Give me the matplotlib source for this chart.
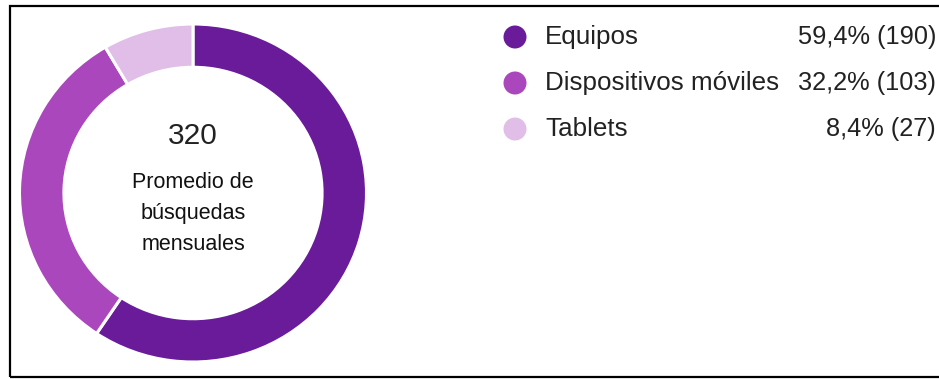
import matplotlib
matplotlib.use("Agg")
from matplotlib import pyplot as plt
from matplotlib.patches import Rectangle

plt.rcParams['font.family'] = ['Liberation Sans', 'DejaVu Sans']

categories = ['Equipos', 'Dispositivos móviles', 'Tablets']
counts = [190, 103, 27]
colors = ['#6a1b9a', '#ab47bc', '#e1bee7']
center_caption = ['Promedio de', 'búsquedas', 'mensuales']

W, H = 939, 379
total = sum(counts)

fig = plt.figure(figsize=(W / 100, H / 100), dpi=100)
fig.patch.set_facecolor('white')

# donut on the left, box given in pixels
x0, y0, x1, y1 = 19.5, 24, 366.5, 362
ax = fig.add_axes([x0 / W, 1 - y1 / H, (x1 - x0) / W, (y1 - y0) / H])
ax.pie(counts, colors=colors, startangle=90, counterclock=False, radius=1,
       wedgeprops=dict(width=0.256, edgecolor='white', linewidth=2.2))
ax.set_xlim(-1, 1)
ax.set_ylim(-1, 1)
ax.set_aspect('auto')
ax.axis('off')

# overlay in pixel coordinates for texts and legend
ov = fig.add_axes([0, 0, 1, 1])
ov.set_xlim(0, W)
ov.set_ylim(H, 0)
ov.axis('off')
ov.patch.set_alpha(0)

cx = 193
ov.text(cx, 136, str(total), ha='center', va='center', fontsize=21.5, color='#222222')
for i, line in enumerate(center_caption):
    ov.text(cx, 183 + 31 * i, line, ha='center', va='center', fontsize=15.5, color='#111111')

row_y = 37
for i, (name, n, c) in enumerate(zip(categories, counts, colors)):
    y = row_y + 46 * i
    ov.scatter([515], [y], s=(23 * 0.72) ** 2, color=c, edgecolors='none')
    ov.text(545, y, name, ha='left', va='center', fontsize=18.7, color='#222222')
    pct = f"{100 * n / total:.1f}".replace('.', ',')
    ov.text(936, y, f"{pct}% ({n})", ha='right', va='center', fontsize=18.3, color='#222222')

# outer frame
fig.patches.append(Rectangle((10 / W, 1 - 377 / H), 940 / W, 371 / H, transform=fig.transFigure,
                             fill=False, edgecolor='black', linewidth=1.6))

fig.savefig('out.png', dpi=100)
